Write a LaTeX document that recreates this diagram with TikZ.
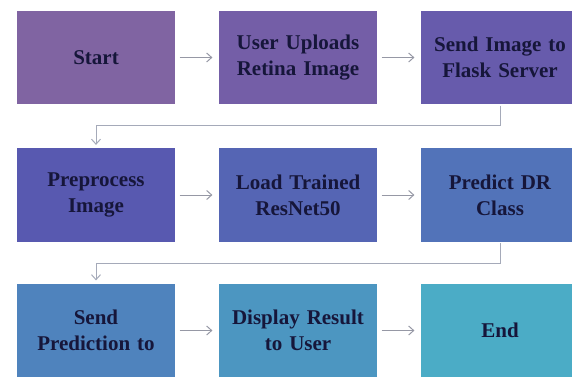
\documentclass[tikz,border=0pt]{standalone}
\usepackage{fontspec}
\setmainfont{Liberation Serif}
\usetikzlibrary{shadows,arrows.meta}
\definecolor{c1}{RGB}{128,100,162}
\definecolor{c2}{RGB}{116,94,167}
\definecolor{c3}{RGB}{103,91,172}
\definecolor{c4}{RGB}{88,89,176}
\definecolor{c5}{RGB}{85,101,180}
\definecolor{c6}{RGB}{82,115,185}
\definecolor{c7}{RGB}{79,131,189}
\definecolor{c8}{RGB}{76,150,193}
\definecolor{c9}{RGB}{75,172,198}
\definecolor{txt}{RGB}{22,22,58}
\definecolor{arr}{RGB}{150,152,165}
\definecolor{conn}{RGB}{165,170,185}
\tikzset{
  stepbox/.style={draw=white, line width=1.2pt, minimum width=160pt, minimum height=95pt,
    inner sep=0pt, align=center, text width=156pt, text=txt,
    font=\fontsize{21}{26}\selectfont\bfseries,
    drop shadow={opacity=0.22, shadow xshift=0.8pt, shadow yshift=-0.8pt}},
  harrow/.style={draw=arr, line width=1pt, -{Straight Barb[length=5pt,width=9pt]}, shorten <=3pt, shorten >=5pt},
  varrow/.style={draw=conn, line width=1pt, -{Straight Barb[length=5pt,width=9pt]}, shorten >=2pt}
}
\begin{document}
\begin{tikzpicture}[x=1pt,y=-1pt]
\useasboundingbox (0,0) rectangle (572,381);
\clip (0,0) rectangle (572,381);
\node[stepbox, fill=c1] (b1) at (96,57.5) {Start};
\node[stepbox, fill=c2] (b2) at (298,57.5) {User Uploads\\Retina Image};
\node[stepbox, fill=c3] (b3) at (500,57.5) {Send Image to\\Flask Server};
\node[stepbox, fill=c4] (b4) at (96,195) {Preprocess\\Image};
\node[stepbox, fill=c5] (b5) at (298,195) {Load Trained\\ResNet50};
\node[stepbox, fill=c6] (b6) at (500,195) {Predict DR\\Class};
\node[stepbox, fill=c7] (b7) at (96,330.5) {Send\\Prediction to};
\node[stepbox, fill=c8] (b8) at (298,330.5) {Display Result\\to User};
\node[stepbox, fill=c9] (b9) at (500,330.5) {End};
\draw[harrow] (b1) -- (b2);
\draw[harrow] (b2) -- (b3);
\draw[harrow] (b4) -- (b5);
\draw[harrow] (b5) -- (b6);
\draw[harrow] (b7) -- (b8);
\draw[harrow] (b8) -- (b9);
\coordinate (k1) at (500,125);
\coordinate (k2) at (500,263);
\draw[varrow] (b3.south) -- (k1) -| (b4.north);
\draw[varrow] (b6.south) -- (k2) -| (b7.north);
\end{tikzpicture}
\end{document}
